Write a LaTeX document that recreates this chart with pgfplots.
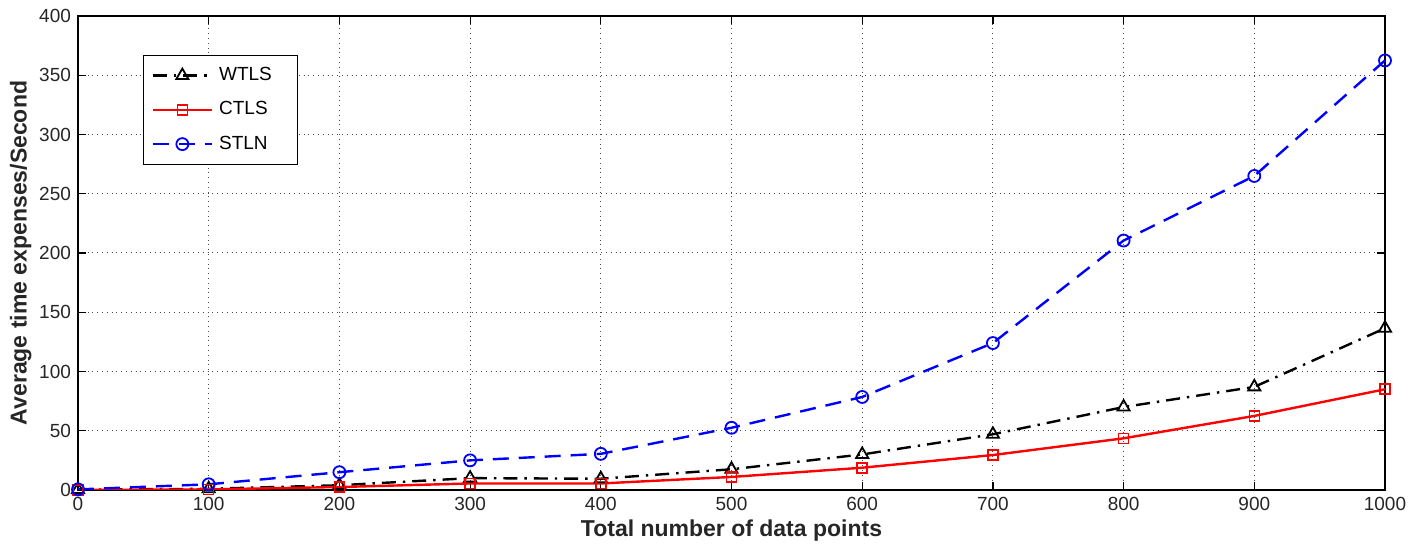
\documentclass[border=0pt]{standalone}
\usepackage{pgfplots}
\pgfplotsset{compat=1.18}
\usepackage{fontspec}
\setmainfont{Liberation Sans}
\begin{document}
\begin{tikzpicture}
\path[use as bounding box] (-39pt,-27pt) rectangle (671.5pt,245pt);
\begin{axis}[
  at={(0,0)}, anchor=south west,
  scale only axis,
  width=653.5pt, height=237pt,
  xmin=0, xmax=1000, ymin=0, ymax=400,
  xtick={0,100,...,1000}, ytick={0,50,...,400},
  tick align=inside, xtick pos=both, ytick pos=both,
  major tick length=4pt,
  grid=major,
  grid style={dotted, black!70, line width=0.5pt},
  axis line style={line width=0.8pt},
  tick style={black, line width=0.6pt},
  ticklabel style={font=\fontsize{9.5}{11}\selectfont, text=black!85},
  /pgf/number format/assume math mode=true,
  /pgf/number format/.cd, set thousands separator={}, /pgfplots/.cd,
  xlabel={Total number of data points},
  ylabel={Average time expenses/Second},
  label style={font=\fontsize{11.5}{13}\selectfont\bfseries, text=black!85},
  xlabel style={yshift=2pt},
  ylabel style={yshift=-3pt},
  legend style={at={(0.0497,0.918)}, anchor=north west, draw=black, line width=0.6pt,
    font=\fontsize{9.5}{11}\selectfont, row sep=5pt, inner xsep=4pt, inner ysep=4pt,
    nodes={inner xsep=3pt, text width=32pt}},
  legend cell align=left,
  legend image code/.code={
    \draw[mark repeat=2,mark phase=2] plot coordinates {(0cm,0cm) (0.52cm,0cm) (1.04cm,0cm)};
  },
]
\addplot[black, line width=1.2pt, dash pattern=on 7pt off 3.5pt on 1.2pt off 3.5pt,
  mark=triangle, mark size=3.5pt, mark options={solid, line width=0.9pt}]
  coordinates {(0,0.3) (100,1) (200,4) (300,10) (400,9.5) (500,17.5) (600,30) (700,47) (800,70) (900,87) (1000,136.5)};
\addlegendentry{WTLS}
\addplot[red, line width=1.2pt,
  mark=square, mark size=2.5pt, mark options={solid, line width=0.8pt}]
  coordinates {(0,0) (100,0.5) (200,2.5) (300,5.5) (400,5.5) (500,11) (600,18.8) (700,29.5) (800,43.6) (900,62.5) (1000,85)};
\addlegendentry{CTLS}
\addplot[blue, line width=1.2pt, dash pattern=on 8pt off 5pt,
  mark=o, mark size=3pt, mark options={solid, line width=0.9pt}]
  coordinates {(0,0.5) (100,4.8) (200,15) (300,25) (400,30.5) (500,52.5) (600,78.5) (700,124) (800,210.5) (900,265) (1000,362.5)};
\addlegendentry{STLN}
\end{axis}
\end{tikzpicture}
\end{document}
